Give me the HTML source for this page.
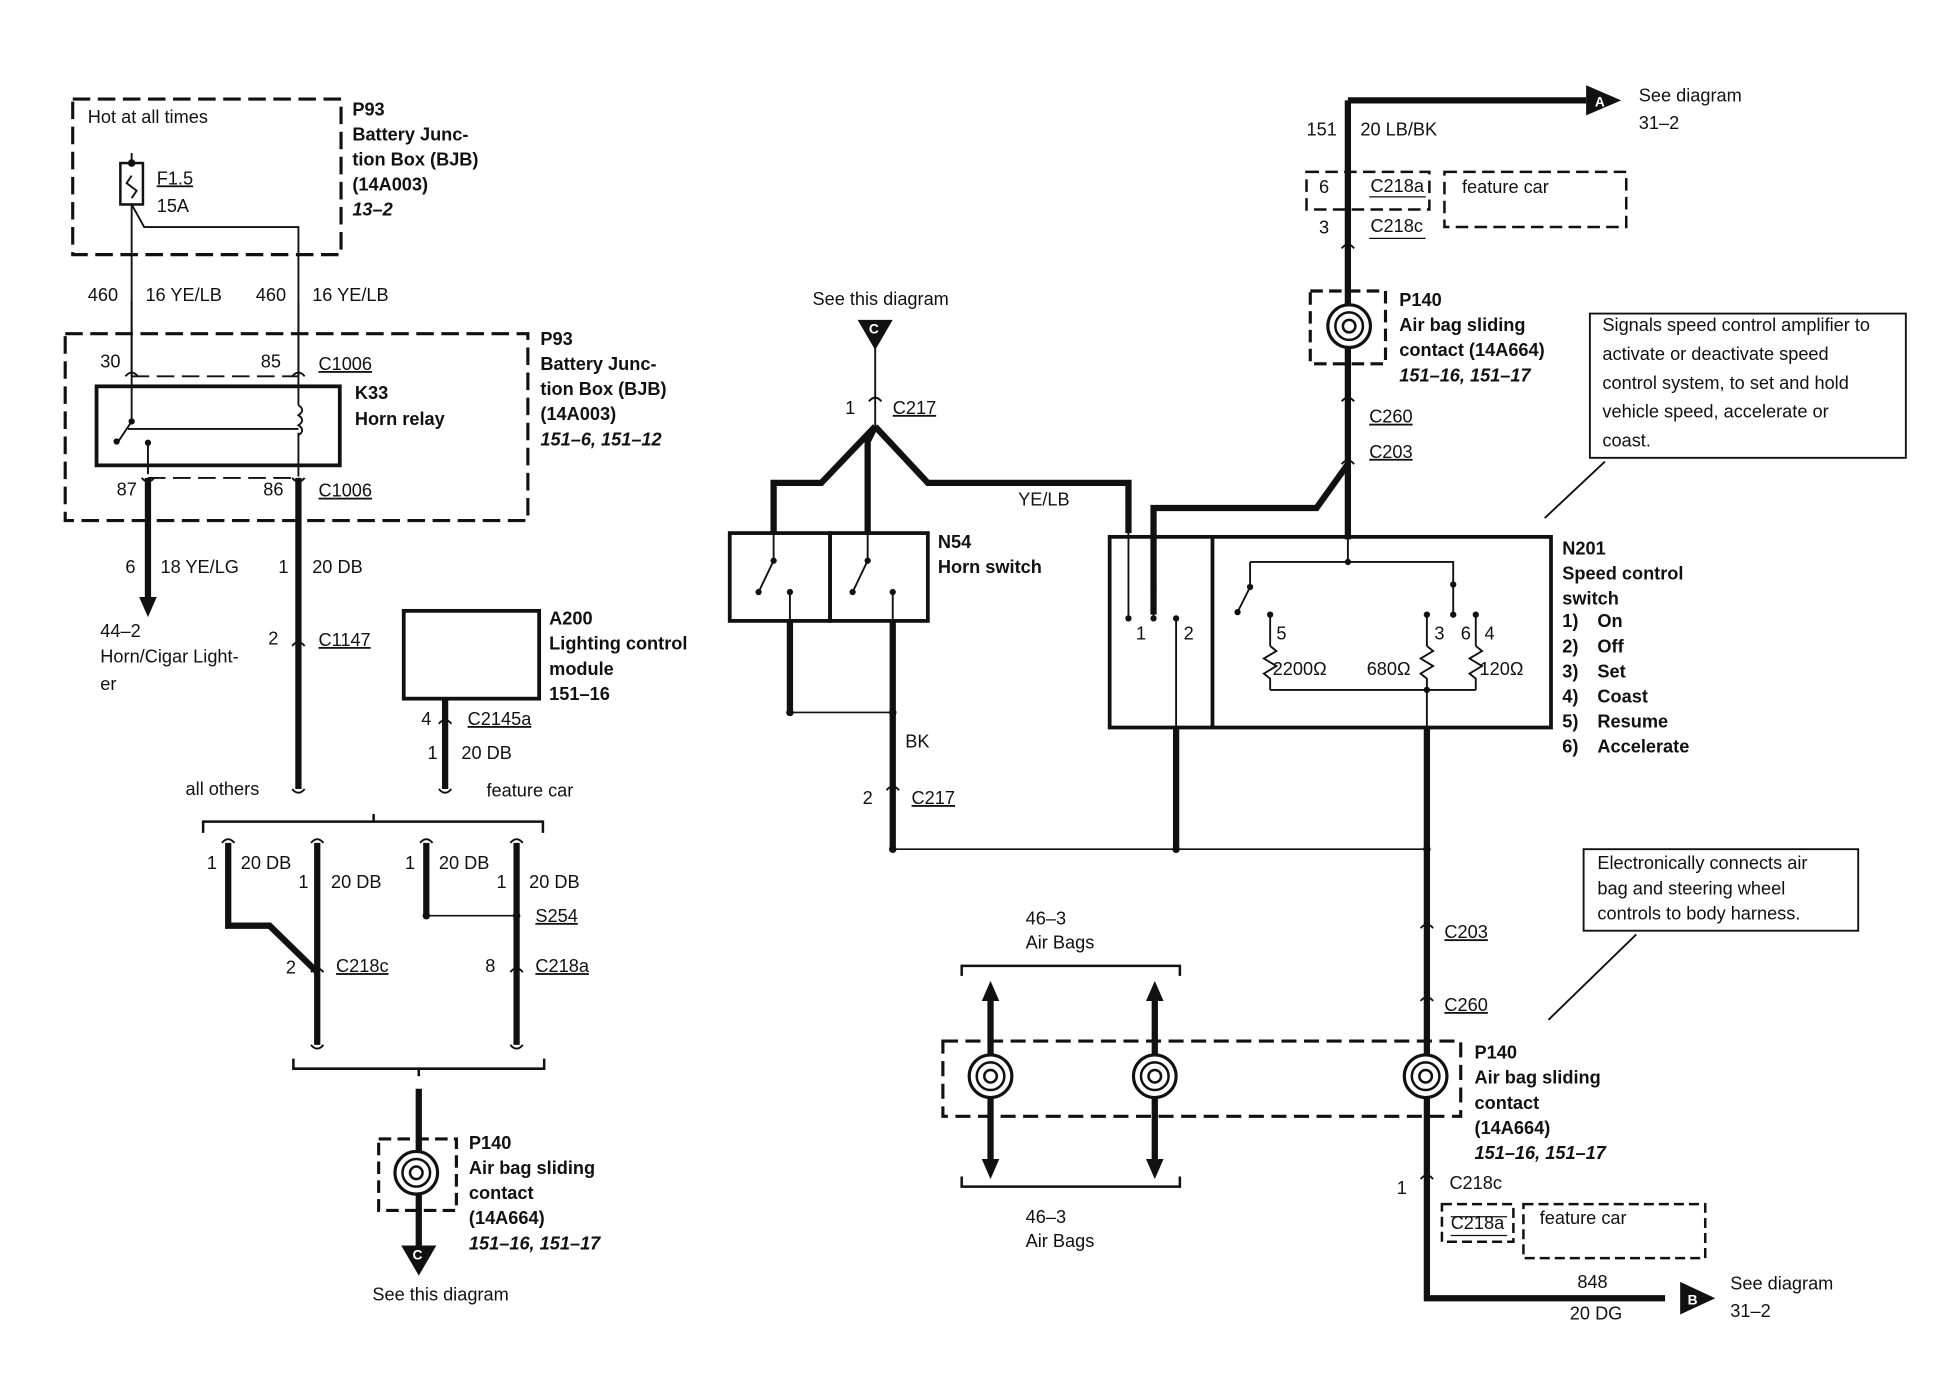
<!DOCTYPE html>
<html><head><meta charset="utf-8"><style>
html,body{margin:0;padding:0;background:#fff}
svg{display:block}
text{font-family:"Liberation Sans",Arial,sans-serif;font-size:14.5px;fill:#111}
.b{font-weight:bold}
.i{font-weight:bold;font-style:italic}
</style></head><body>
<svg width="1956" height="1376" viewBox="0 0 1560 1097" preserveAspectRatio="none" xmlns="http://www.w3.org/2000/svg">
<defs>
<g id="coil"><circle r="17" fill="none" stroke="#111" stroke-width="2.5"/><circle r="11" fill="none" stroke="#111" stroke-width="2"/><circle r="5" fill="none" stroke="#111" stroke-width="2"/></g>
</defs>
<g fill="none" stroke="#111">
<!-- top left dashed box -->
<rect x="58" y="79" width="214" height="124" stroke-width="2.5" stroke-dasharray="14 6"/>
<rect x="96" y="130" width="18" height="33" stroke-width="2"/>
<path d="M105 130v-8M105 163v137M105 140l-4 6l8 6l-4 6" stroke-width="1.5"/>
<path d="M105 163l10 18h123v119" stroke-width="1.5"/>
<!-- BJB box 2 -->
<rect x="52" y="266" width="369" height="149" stroke-width="2.5" stroke-dasharray="14 6"/>
<path d="M105 300h133" stroke-width="1.5" stroke-dasharray="14 6"/>
<path d="M118 381h120" stroke-width="1.5" stroke-dasharray="14 6"/>
<rect x="77" y="308" width="194" height="63" stroke-width="3"/>
<path d="M105 240v96l-12 18M118 378v-25M238 240v68M238 308v15M238 345v35M102 342h136" stroke-width="1.5"/>
<path d="M238 323q6 4 0 8q6 4 0 8q6 4 0 8" stroke-width="1.5"/>
<path d="M100 300q5-6 10 0M233 300q5-6 10 0M113 381q5 6 10 0M233 381q5 6 10 0" stroke-width="1.5"/>
<!-- thick wires -->
<path d="M118 381v95M238 381v248M355 557v72" stroke-width="5"/>
<path d="M233 515q5-6 10 0M350 577q5-6 10 0M233 629q5 6 10 0M350 629q5 6 10 0" stroke-width="1.5"/>
<rect x="322" y="487" width="108" height="70" stroke-width="3"/>
<!-- bracket -->
<path d="M162 664v-9h271v9M298 655v-6" stroke-width="2"/>
<path d="M182 672v66h33l38 37M253 672v161M340 672v58M412 672v161" stroke-width="5"/>
<path d="M340 730h72" stroke-width="1.3"/>
<path d="M177 672q5-6 10 0M248 672q5-6 10 0M335 672q5-6 10 0M407 672q5-6 10 0M248 775q5-6 10 0M407 775q5-6 10 0M248 833q5 6 10 0M407 833q5 6 10 0" stroke-width="1.5"/>
<path d="M234 844v8h200v-8M334 852v6" stroke-width="2"/>
<path d="M334 868v125" stroke-width="5"/>
<rect x="302" y="908" width="62" height="57" stroke-width="2.5" stroke-dasharray="10 5"/>
<!-- middle -->
<path d="M698 270v70" stroke-width="1.5"/>
<path d="M698 340l-43 45h-38v40M698 340l-6 12v73M698 340l42 45h160v40M630 495v73M712 495v182" stroke-width="5"/>
<path d="M630 568h82M712 677h426" stroke-width="1.3"/>
<path d="M693 320q5-6 10 0M707 630q5-6 10 0" stroke-width="1.5"/>
<rect x="582" y="425" width="80" height="70" stroke-width="3"/>
<rect x="662" y="425" width="78" height="70" stroke-width="3"/>
<path d="M617 425v22l-12 25M692 425v22l-12 25M630 472v23M712 472v23" stroke-width="1.5"/>
<!-- right top -->
<path d="M1075 80h190M1075 80v350" stroke-width="5"/>
<path d="M1075 370l-25 35h-130v85" stroke-width="5"/>
<path d="M1070 370q5-6 10 0M1070 320q5-6 10 0M1070 198q5-6 10 0" stroke-width="1.5"/>
<rect x="1042" y="137" width="98" height="30" stroke-width="2" stroke-dasharray="10 5"/>
<rect x="1152" y="137" width="145" height="44" stroke-width="2" stroke-dasharray="10 5"/>
<rect x="1045" y="232" width="60" height="58" stroke-width="2.5" stroke-dasharray="10 5"/>
<!-- N201 -->
<rect x="885" y="428" width="352" height="152" stroke-width="3"/>
<path d="M967 428v152" stroke-width="3"/>
<path d="M900 405v88M920 428v65M938 493v87M1075 428v20M997 448h162v27M997 448v20l-10 20M1138 580v-30M1013 550h164M1013 490v25M1138 490v25M1177 490v25M1159 475v15" stroke-width="1.5"/>
<path d="M1013 515l5 4l-10 6l10 6l-10 6l5 4v9M1138 515l5 4l-10 6l10 6l-10 6l5 4v9M1177 515l5 4l-10 6l10 6l-10 6l5 4v9" stroke-width="1.5"/>
<path d="M938 580v97M1138 580v455h190" stroke-width="5"/>
<path d="M1133 740q5-6 10 0M1133 798q5-6 10 0M1133 940q5-6 10 0" stroke-width="1.5"/>
<rect x="1268" y="250" width="252" height="115" stroke-width="1.5"/>
<rect x="1263" y="677" width="219" height="65" stroke-width="1.5"/>
<path d="M1280 368l-48 45M1305 745l-70 68" stroke-width="1.5"/>
<!-- airbags -->
<rect x="752" y="830" width="413" height="60" stroke-width="2.5" stroke-dasharray="12 6"/>
<path d="M767 778v-8h174v8M767 938v8h174v-8" stroke-width="2"/>
<path d="M790 798v126M921 798v126" stroke-width="5"/>
<rect x="1150" y="960" width="57" height="30" stroke-width="2" stroke-dasharray="8 4"/>
<rect x="1215" y="960" width="145" height="43" stroke-width="2" stroke-dasharray="8 4"/>
<path d="M1157 970h45M1157 985h45M1092 157h45M1092 190h45" stroke-width="1"/>
</g>
<g fill="#111">
<path d="M111 476h14l-7 16z"/>
<path d="M783 798h14l-7-16zM914 798h14l-7-16zM783 924h14l-7 16zM914 924h14l-7 16z"/>
<path d="M1265 68l28 12l-28 12z"/><text x="1272" y="85" style="fill:#fff;font-size:11px" class="b">A</text>
<path d="M1340 1022l28 13l-28 13z"/><text x="1346" y="1040" style="fill:#fff;font-size:11px" class="b">B</text>
<path d="M684 255h28l-14 24z"/><text x="693" y="266" style="fill:#fff;font-size:11px" class="b">C</text>
<path d="M320 993h28l-14 24z"/><text x="329" y="1004" style="fill:#fff;font-size:11px" class="b">C</text>
<circle cx="93" cy="352" r="2.5"/><circle cx="105" cy="336" r="2.5"/><circle cx="118" cy="353" r="2.5"/>
<circle cx="605" cy="472" r="2.5"/><circle cx="617" cy="447" r="2.5"/><circle cx="630" cy="472" r="2.5"/>
<circle cx="680" cy="472" r="2.5"/><circle cx="692" cy="447" r="2.5"/><circle cx="712" cy="472" r="2.5"/>
<circle cx="630" cy="568" r="3"/><circle cx="712" cy="568" r="3"/><circle cx="712" cy="677" r="3"/><circle cx="938" cy="677" r="3"/><circle cx="1138" cy="677" r="3"/>
<circle cx="340" cy="730" r="3"/><circle cx="412" cy="730" r="3"/>
<circle cx="900" cy="493" r="2.5"/><circle cx="920" cy="493" r="2.5"/><circle cx="938" cy="493" r="2.5"/><circle cx="920" cy="468" r="2.5"/>
<circle cx="1075" cy="448" r="2.5"/><circle cx="997" cy="468" r="2.5"/><circle cx="987" cy="488" r="2.5"/><circle cx="1013" cy="490" r="2.5"/><circle cx="1138" cy="490" r="2.5"/><circle cx="1159" cy="466" r="2.5"/><circle cx="1159" cy="490" r="2.5"/><circle cx="1177" cy="490" r="2.5"/><circle cx="1138" cy="550" r="2.5"/>
<circle cx="105" cy="130" r="3"/>
</g>
<g fill="#fff"><rect x="1059" y="243" width="34" height="34"/><rect x="315" y="918" width="34" height="34"/><rect x="772" y="841" width="36" height="34"/><rect x="903" y="841" width="36" height="34"/><rect x="1119" y="841" width="36" height="34"/></g>
<use href="#coil" x="1076" y="260"/><use href="#coil" x="332" y="935"/><use href="#coil" x="790" y="858"/><use href="#coil" x="921" y="858"/><use href="#coil" x="1137" y="858"/>
<g>
<text x="70" y="98">Hot at all times</text>
<text x="125" y="147" text-decoration="underline">F1.5</text><text x="125" y="169">15A</text>
<text x="281" y="92" class="b">P93</text><text x="281" y="112" class="b">Battery Junc-</text><text x="281" y="132" class="b">tion Box (BJB)</text><text x="281" y="152" class="b">(14A003)</text><text x="281" y="172" class="i">13–2</text>
<text x="70" y="240">460</text><text x="116" y="240">16 YE/LB</text><text x="204" y="240">460</text><text x="249" y="240">16 YE/LB</text>
<text x="80" y="293">30</text><text x="208" y="293">85</text><text x="254" y="295" text-decoration="underline">C1006</text>
<text x="283" y="318" class="b">K33</text><text x="283" y="339" class="b">Horn relay</text>
<text x="93" y="395">87</text><text x="210" y="395">86</text><text x="254" y="396" text-decoration="underline">C1006</text>
<text x="431" y="275" class="b">P93</text><text x="431" y="295" class="b">Battery Junc-</text><text x="431" y="315" class="b">tion Box (BJB)</text><text x="431" y="335" class="b">(14A003)</text><text x="431" y="355" class="i">151–6, 151–12</text>
<text x="100" y="457">6</text><text x="128" y="457">18 YE/LG</text><text x="222" y="457">1</text><text x="249" y="457">20 DB</text>
<text x="80" y="508">44–2</text><text x="80" y="528">Horn/Cigar Light-</text><text x="80" y="550">er</text>
<text x="214" y="514">2</text><text x="254" y="515" text-decoration="underline">C1147</text>
<text x="438" y="498" class="b">A200</text><text x="438" y="518" class="b">Lighting control</text><text x="438" y="538" class="b">module</text><text x="438" y="558" class="b">151–16</text>
<text x="336" y="578">4</text><text x="373" y="578" text-decoration="underline">C2145a</text><text x="341" y="605">1</text><text x="368" y="605">20 DB</text>
<text x="148" y="634">all others</text><text x="388" y="635">feature car</text>
<text x="165" y="693">1</text><text x="192" y="693">20 DB</text><text x="238" y="708">1</text><text x="264" y="708">20 DB</text>
<text x="323" y="693">1</text><text x="350" y="693">20 DB</text><text x="396" y="708">1</text><text x="422" y="708">20 DB</text>
<text x="427" y="735" text-decoration="underline">S254</text>
<text x="228" y="776">2</text><text x="268" y="775" text-decoration="underline">C218c</text><text x="387" y="775">8</text><text x="427" y="775" text-decoration="underline">C218a</text>
<text x="374" y="916" class="b">P140</text><text x="374" y="936" class="b">Air bag sliding</text><text x="374" y="956" class="b">contact</text><text x="374" y="976" class="b">(14A664)</text><text x="374" y="996" class="i">151–16, 151–17</text>
<text x="297" y="1037">See this diagram</text>
<text x="648" y="243">See this diagram</text>
<text x="674" y="330">1</text><text x="712" y="330" text-decoration="underline">C217</text>
<text x="812" y="403">YE/LB</text>
<text x="748" y="437" class="b">N54</text><text x="748" y="457" class="b">Horn switch</text>
<text x="722" y="596">BK</text><text x="688" y="641">2</text><text x="727" y="641" text-decoration="underline">C217</text>
<text x="1042" y="108">151</text><text x="1085" y="108">20 LB/BK</text>
<text x="1052" y="154">6</text><text x="1093" y="153">C218a</text><text x="1052" y="186">3</text><text x="1093" y="185">C218c</text>
<text x="1166" y="154">feature car</text>
<text x="1307" y="81">See diagram</text><text x="1307" y="103">31–2</text>
<text x="1116" y="244" class="b">P140</text><text x="1116" y="264" class="b">Air bag sliding</text><text x="1116" y="284" class="b">contact (14A664)</text><text x="1116" y="304" class="i">151–16, 151–17</text>
<text x="1092" y="337" text-decoration="underline">C260</text><text x="1092" y="365" text-decoration="underline">C203</text>
<g style="font-size:14px"><text x="1278" y="264">Signals speed control amplifier to</text><text x="1278" y="287">activate or deactivate speed</text><text x="1278" y="310">control system, to set and hold</text><text x="1278" y="333">vehicle speed, accelerate or</text><text x="1278" y="356">coast.</text>
<text x="1274" y="693">Electronically connects air</text><text x="1274" y="713">bag and steering wheel</text><text x="1274" y="733">controls to body harness.</text></g>
<text x="906" y="510">1</text><text x="944" y="510">2</text>
<text x="1018" y="510">5</text><text x="1144" y="510">3</text><text x="1165" y="510">6</text><text x="1184" y="510">4</text>
<text x="1015" y="538">2200Ω</text><text x="1090" y="538">680Ω</text><text x="1180" y="538">120Ω</text>
<text x="1246" y="442" class="b">N201</text><text x="1246" y="462" class="b">Speed control</text><text x="1246" y="482" class="b">switch</text>
<text x="1246" y="500" class="b">1)</text><text x="1274" y="500" class="b">On</text>
<text x="1246" y="520" class="b">2)</text><text x="1274" y="520" class="b">Off</text>
<text x="1246" y="540" class="b">3)</text><text x="1274" y="540" class="b">Set</text>
<text x="1246" y="560" class="b">4)</text><text x="1274" y="560" class="b">Coast</text>
<text x="1246" y="580" class="b">5)</text><text x="1274" y="580" class="b">Resume</text>
<text x="1246" y="600" class="b">6)</text><text x="1274" y="600" class="b">Accelerate</text>
<text x="818" y="737">46–3</text><text x="818" y="756">Air Bags</text><text x="818" y="975">46–3</text><text x="818" y="994">Air Bags</text>
<text x="1152" y="748" text-decoration="underline">C203</text><text x="1152" y="806" text-decoration="underline">C260</text>
<text x="1176" y="844" class="b">P140</text><text x="1176" y="864" class="b">Air bag sliding</text><text x="1176" y="884" class="b">contact</text><text x="1176" y="904" class="b">(14A664)</text><text x="1176" y="924" class="i">151–16, 151–17</text>
<text x="1114" y="952">1</text><text x="1156" y="948">C218c</text><text x="1157" y="980">C218a</text><text x="1228" y="976">feature car</text>
<text x="1258" y="1027">848</text><text x="1252" y="1052">20 DG</text><text x="1380" y="1028">See diagram</text><text x="1380" y="1050">31–2</text>
</g>
</svg>
</body></html>
